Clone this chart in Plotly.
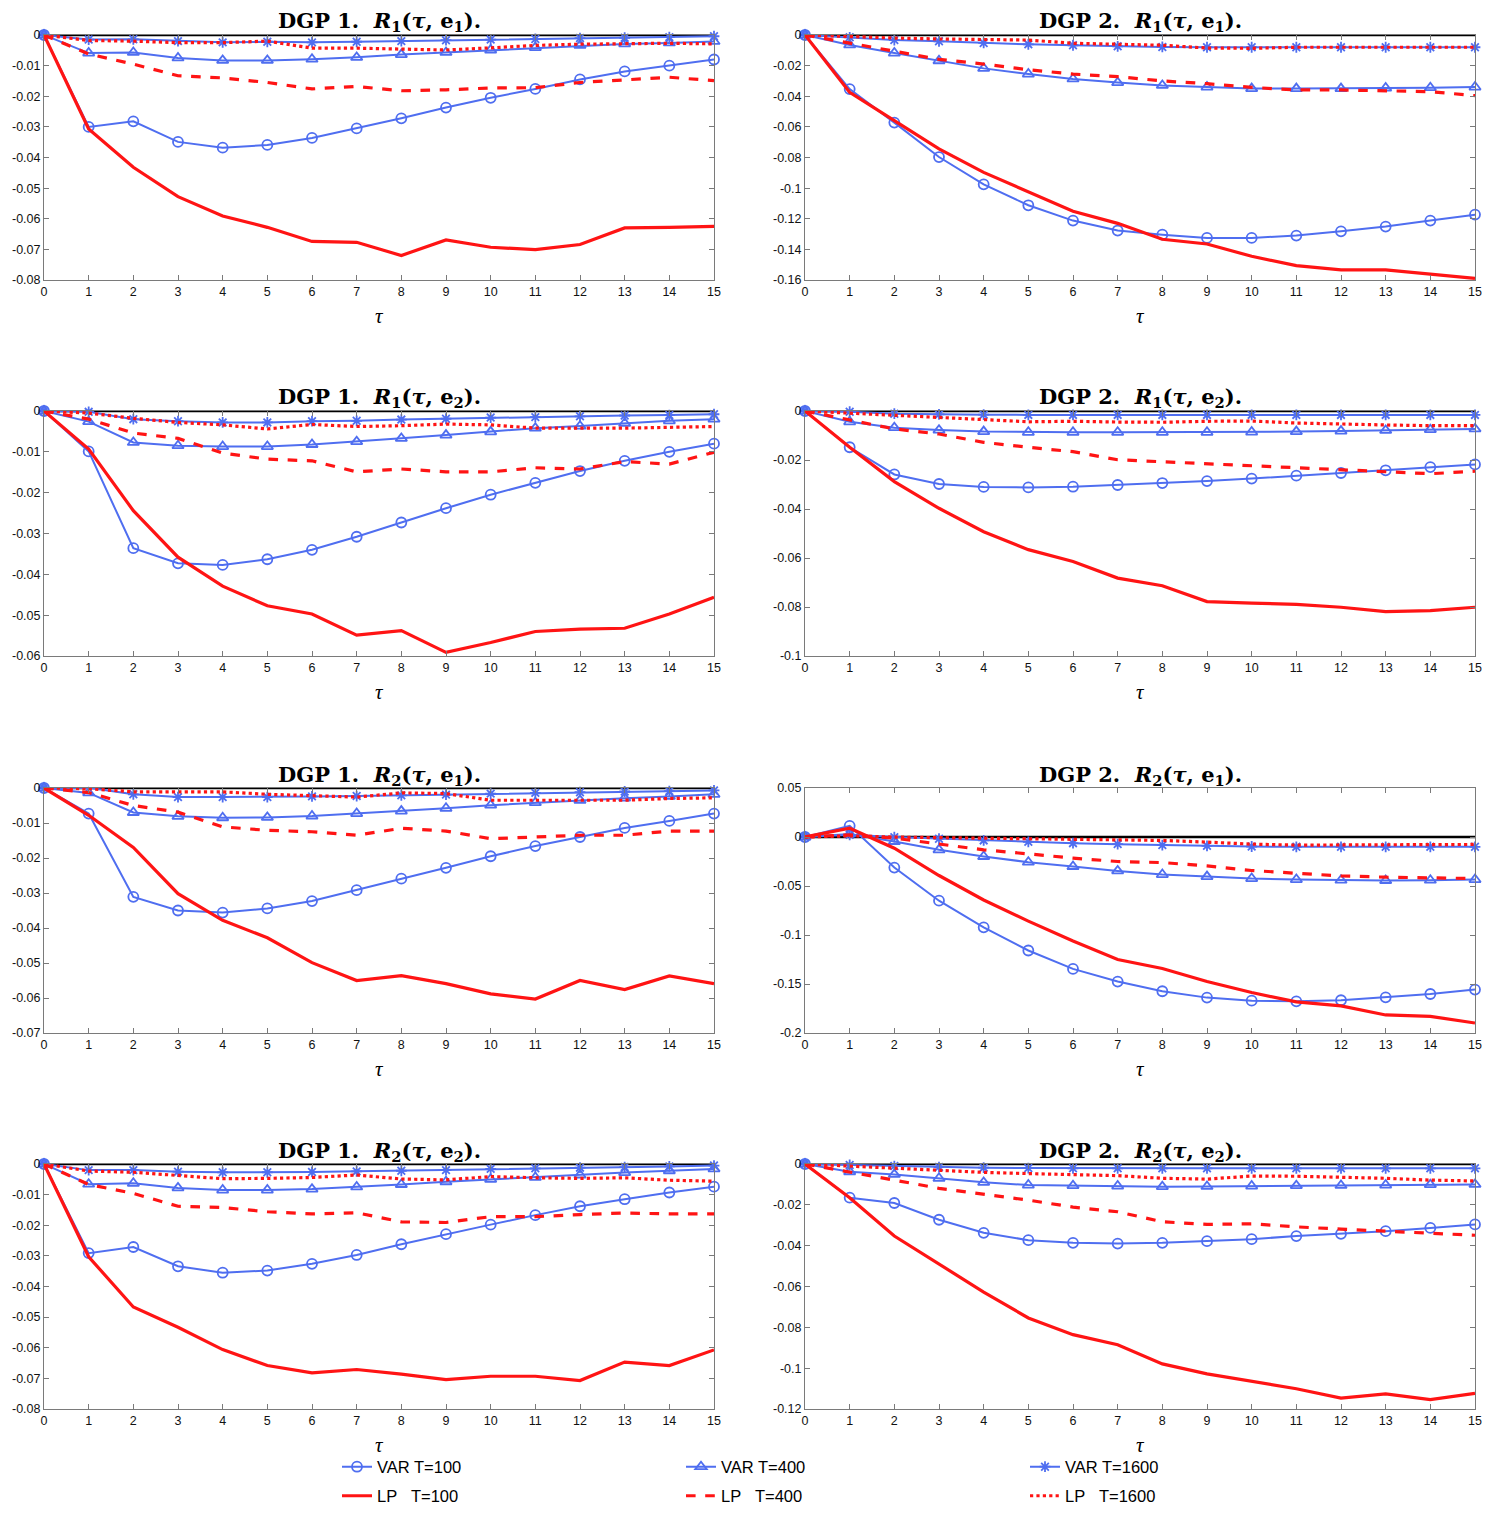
import plotly.graph_objects as go
from plotly.subplots import make_subplots

tau = list(range(16))

# ---------- Panel 1: DGP 1. R1(tau, e1) ----------
p1_var100 = [0, -0.0300, -0.0282, -0.0349, -0.0368, -0.0359, -0.0336, -0.0305, -0.0272, -0.0237, -0.0205, -0.0176, -0.0145, -0.0119, -0.0100, -0.0080]
p1_var400 = [0, -0.0059, -0.0057, -0.0075, -0.0083, -0.0083, -0.0079, -0.0073, -0.0064, -0.0057, -0.0049, -0.0041, -0.0034, -0.0029, -0.0026, -0.0021]
p1_var1600 = [0, -0.0015, -0.0014, -0.0020, -0.0024, -0.0022, -0.0024, -0.0022, -0.0020, -0.0017, -0.0015, -0.0013, -0.0010, -0.0009, -0.0007, -0.0004]
p1_lp100 = [0, -0.0307, -0.0432, -0.0528, -0.0591, -0.0628, -0.0674, -0.0677, -0.0720, -0.0669, -0.0693, -0.0701, -0.0684, -0.0630, -0.0628, -0.0625]
p1_lp400 = [0, -0.0062, -0.0095, -0.0133, -0.0140, -0.0155, -0.0176, -0.0168, -0.0182, -0.0179, -0.0173, -0.0172, -0.0155, -0.0147, -0.0138, -0.0149]
p1_lp1600 = [0, -0.0018, -0.0020, -0.0025, -0.0025, -0.0020, -0.0043, -0.0043, -0.0046, -0.0049, -0.0042, -0.0034, -0.0030, -0.0029, -0.0027, -0.0029]

# ---------- Panel 2: DGP 2. R1(tau, e1) ----------
p2_var100 = [0, -0.0353, -0.0572, -0.0797, -0.0975, -0.1112, -0.1212, -0.1277, -0.1304, -0.1325, -0.1325, -0.1310, -0.1282, -0.1251, -0.1212, -0.1173]
p2_var400 = [0, -0.0065, -0.0118, -0.0168, -0.0218, -0.0255, -0.0287, -0.0311, -0.0329, -0.0340, -0.0350, -0.0350, -0.0350, -0.0346, -0.0344, -0.0340]
p2_var1600 = [0, -0.0015, -0.0033, -0.0041, -0.0052, -0.0061, -0.0067, -0.0074, -0.0078, -0.0080, -0.0080, -0.0080, -0.0080, -0.0080, -0.0080, -0.0080]
p2_lp100 = [0, -0.0374, -0.0559, -0.0744, -0.0897, -0.1023, -0.1151, -0.1230, -0.1334, -0.1365, -0.1445, -0.1506, -0.1534, -0.1534, -0.1560, -0.1589]
p2_lp400 = [0, -0.0054, -0.0107, -0.0159, -0.0190, -0.0227, -0.0255, -0.0272, -0.0300, -0.0318, -0.0342, -0.0359, -0.0359, -0.0363, -0.0370, -0.0396]
p2_lp1600 = [0, -0.0011, -0.0020, -0.0026, -0.0030, -0.0033, -0.0054, -0.0059, -0.0067, -0.0085, -0.0087, -0.0080, -0.0080, -0.0080, -0.0080, -0.0080]

# ---------- Panel 3: DGP 1. R1(tau, e2) ----------
p3_var100 = [0, -0.0099, -0.0336, -0.0373, -0.0377, -0.0363, -0.0340, -0.0308, -0.0273, -0.0238, -0.0205, -0.0176, -0.0147, -0.0122, -0.0100, -0.0080]
p3_var400 = [0, -0.0026, -0.0077, -0.0085, -0.0087, -0.0087, -0.0082, -0.0075, -0.0067, -0.0059, -0.0051, -0.0042, -0.0037, -0.0030, -0.0024, -0.0020]
p3_var1600 = [0, -0.0002, -0.0020, -0.0025, -0.0028, -0.0028, -0.0025, -0.0024, -0.0021, -0.0019, -0.0016, -0.0015, -0.0013, -0.0011, -0.0010, -0.0008]
p3_lp100 = [0, -0.0093, -0.0244, -0.0358, -0.0429, -0.0477, -0.0497, -0.0549, -0.0538, -0.0591, -0.0567, -0.0540, -0.0534, -0.0532, -0.0497, -0.0456]
p3_lp400 = [0, -0.0020, -0.0054, -0.0067, -0.0103, -0.0118, -0.0122, -0.0149, -0.0142, -0.0149, -0.0149, -0.0139, -0.0142, -0.0124, -0.0130, -0.0101]
p3_lp1600 = [0, -0.0005, -0.0018, -0.0028, -0.0034, -0.0044, -0.0033, -0.0038, -0.0036, -0.0032, -0.0034, -0.0042, -0.0042, -0.0042, -0.0040, -0.0038]

# ---------- Panel 4: DGP 2. R1(tau, e2) ----------
p4_var100 = [0, -0.0148, -0.0259, -0.0298, -0.0310, -0.0312, -0.0309, -0.0302, -0.0294, -0.0286, -0.0276, -0.0264, -0.0253, -0.0242, -0.0229, -0.0218]
p4_var400 = [0, -0.0044, -0.0068, -0.0078, -0.0084, -0.0087, -0.0087, -0.0087, -0.0087, -0.0087, -0.0086, -0.0084, -0.0082, -0.0079, -0.0076, -0.0073]
p4_var1600 = [0, -0.0003, -0.0011, -0.0014, -0.0015, -0.0016, -0.0016, -0.0016, -0.0016, -0.0016, -0.0016, -0.0016, -0.0016, -0.0016, -0.0016, -0.0016]
p4_lp100 = [0, -0.0148, -0.0288, -0.0397, -0.0493, -0.0566, -0.0614, -0.0682, -0.0713, -0.0778, -0.0784, -0.0789, -0.0801, -0.0819, -0.0815, -0.0801]
p4_lp400 = [0, -0.0037, -0.0073, -0.0094, -0.0128, -0.0148, -0.0166, -0.0199, -0.0207, -0.0216, -0.0223, -0.0230, -0.0239, -0.0246, -0.0256, -0.0246]
p4_lp1600 = [0, -0.0008, -0.0019, -0.0027, -0.0035, -0.0044, -0.0042, -0.0045, -0.0046, -0.0042, -0.0041, -0.0049, -0.0054, -0.0057, -0.0060, -0.0060]

# ---------- Panel 5: DGP 1. R2(tau, e1) ----------
p5_var100 = [0, -0.0073, -0.0311, -0.0350, -0.0356, -0.0344, -0.0323, -0.0292, -0.0259, -0.0228, -0.0195, -0.0166, -0.0140, -0.0114, -0.0094, -0.0073]
p5_var400 = [0, -0.0014, -0.0070, -0.0081, -0.0085, -0.0084, -0.0080, -0.0073, -0.0066, -0.0058, -0.0049, -0.0042, -0.0035, -0.0029, -0.0024, -0.0018]
p5_var1600 = [0, 0.0001, -0.0018, -0.0026, -0.0026, -0.0026, -0.0024, -0.0023, -0.0021, -0.0019, -0.0016, -0.0014, -0.0012, -0.0010, -0.0009, -0.0007]
p5_lp100 = [0, -0.0078, -0.0170, -0.0302, -0.0378, -0.0428, -0.0499, -0.0550, -0.0536, -0.0559, -0.0588, -0.0603, -0.0550, -0.0576, -0.0537, -0.0559]
p5_lp400 = [0, -0.0013, -0.0050, -0.0069, -0.0111, -0.0121, -0.0125, -0.0135, -0.0115, -0.0123, -0.0145, -0.0140, -0.0135, -0.0135, -0.0123, -0.0123]
p5_lp1600 = [0, -0.0002, -0.0011, -0.0012, -0.0011, -0.0018, -0.0021, -0.0026, -0.0014, -0.0016, -0.0035, -0.0035, -0.0034, -0.0035, -0.0030, -0.0028]

# ---------- Panel 6: DGP 2. R2(tau, e1) ----------
p6_var100 = [0, 0.0114, -0.0312, -0.0650, -0.0922, -0.1158, -0.1346, -0.1475, -0.1574, -0.1639, -0.1670, -0.1677, -0.1666, -0.1636, -0.1602, -0.1557]
p6_var400 = [0, 0.0030, -0.0046, -0.0131, -0.0199, -0.0257, -0.0301, -0.0346, -0.0383, -0.0404, -0.0424, -0.0434, -0.0441, -0.0444, -0.0441, -0.0434]
p6_var1600 = [0, 0.0022, -0.0001, -0.0018, -0.0035, -0.0049, -0.0063, -0.0073, -0.0083, -0.0090, -0.0097, -0.0100, -0.0100, -0.0100, -0.0100, -0.0100]
p6_lp100 = [0, 0.0090, -0.0114, -0.0393, -0.0643, -0.0858, -0.1062, -0.1250, -0.1342, -0.1475, -0.1587, -0.1683, -0.1724, -0.1816, -0.1830, -0.1898]
p6_lp400 = [0, 0.0022, -0.0012, -0.0073, -0.0131, -0.0172, -0.0216, -0.0250, -0.0261, -0.0295, -0.0342, -0.0370, -0.0397, -0.0410, -0.0414, -0.0424]
p6_lp1600 = [0, 0.0012, -0.0001, -0.0008, -0.0015, -0.0022, -0.0029, -0.0035, -0.0035, -0.0052, -0.0073, -0.0083, -0.0080, -0.0083, -0.0080, -0.0076]

# ---------- Panel 7: DGP 1. R2(tau, e2) ----------
p7_var100 = [0, -0.0291, -0.0271, -0.0334, -0.0355, -0.0348, -0.0326, -0.0297, -0.0262, -0.0229, -0.0198, -0.0167, -0.0138, -0.0115, -0.0093, -0.0074]
p7_var400 = [0, -0.0066, -0.0063, -0.0078, -0.0085, -0.0085, -0.0082, -0.0075, -0.0067, -0.0058, -0.0050, -0.0044, -0.0036, -0.0028, -0.0022, -0.0016]
p7_var1600 = [0, -0.0020, -0.0020, -0.0025, -0.0027, -0.0027, -0.0026, -0.0024, -0.0022, -0.0020, -0.0016, -0.0014, -0.0012, -0.0010, -0.0008, -0.0005]
p7_lp100 = [0, -0.0303, -0.0467, -0.0533, -0.0606, -0.0658, -0.0682, -0.0671, -0.0686, -0.0704, -0.0693, -0.0693, -0.0707, -0.0647, -0.0658, -0.0607]
p7_lp400 = [0, -0.0067, -0.0096, -0.0138, -0.0142, -0.0156, -0.0163, -0.0159, -0.0189, -0.0191, -0.0172, -0.0172, -0.0165, -0.0160, -0.0163, -0.0163]
p7_lp1600 = [0, -0.0023, -0.0027, -0.0038, -0.0048, -0.0047, -0.0044, -0.0036, -0.0049, -0.0052, -0.0041, -0.0045, -0.0047, -0.0045, -0.0053, -0.0056]

# ---------- Panel 8: DGP 2. R2(tau, e2) ----------
p8_var100 = [0, -0.0165, -0.0191, -0.0273, -0.0337, -0.0373, -0.0386, -0.0390, -0.0386, -0.0378, -0.0368, -0.0353, -0.0342, -0.0329, -0.0313, -0.0296]
p8_var400 = [0, -0.0038, -0.0051, -0.0070, -0.0090, -0.0103, -0.0106, -0.0108, -0.0111, -0.0110, -0.0108, -0.0106, -0.0105, -0.0103, -0.0101, -0.0100]
p8_var1600 = [0, -0.0005, -0.0010, -0.0015, -0.0018, -0.0020, -0.0021, -0.0021, -0.0021, -0.0021, -0.0021, -0.0021, -0.0021, -0.0021, -0.0021, -0.0021]
p8_lp100 = [0, -0.0165, -0.0353, -0.0488, -0.0627, -0.0754, -0.0836, -0.0885, -0.0979, -0.1028, -0.1065, -0.1101, -0.1147, -0.1126, -0.1154, -0.1123]
p8_lp400 = [0, -0.0038, -0.0079, -0.0119, -0.0149, -0.0177, -0.0211, -0.0234, -0.0283, -0.0296, -0.0293, -0.0308, -0.0319, -0.0329, -0.0340, -0.0349]
p8_lp1600 = [0, -0.0010, -0.0018, -0.0029, -0.0041, -0.0047, -0.0054, -0.0057, -0.0070, -0.0074, -0.0059, -0.0060, -0.0065, -0.0070, -0.0079, -0.0083]

# ---------- Titles ----------
SP = "\u00a0\u00a0"
titles = [
    "DGP 1." + SP + "<i>R</i><sub>1</sub>(<i>τ</i>, e<sub>1</sub>).",
    "DGP 2." + SP + "<i>R</i><sub>1</sub>(<i>τ</i>, e<sub>1</sub>).",
    "DGP 1." + SP + "<i>R</i><sub>1</sub>(<i>τ</i>, e<sub>2</sub>).",
    "DGP 2." + SP + "<i>R</i><sub>1</sub>(<i>τ</i>, e<sub>2</sub>).",
    "DGP 1." + SP + "<i>R</i><sub>2</sub>(<i>τ</i>, e<sub>1</sub>).",
    "DGP 2." + SP + "<i>R</i><sub>2</sub>(<i>τ</i>, e<sub>1</sub>).",
    "DGP 1." + SP + "<i>R</i><sub>2</sub>(<i>τ</i>, e<sub>2</sub>).",
    "DGP 2." + SP + "<i>R</i><sub>2</sub>(<i>τ</i>, e<sub>2</sub>).",
]

# ---------- Tick values / labels ----------
x_tickvals = list(range(16))
x_ticktext = [str(v) for v in x_tickvals]

p1_yticks = [0, -0.01, -0.02, -0.03, -0.04, -0.05, -0.06, -0.07, -0.08]
p1_ylabels = ["0", "-0.01", "-0.02", "-0.03", "-0.04", "-0.05", "-0.06", "-0.07", "-0.08"]
p2_yticks = [0, -0.02, -0.04, -0.06, -0.08, -0.1, -0.12, -0.14, -0.16]
p2_ylabels = ["0", "-0.02", "-0.04", "-0.06", "-0.08", "-0.1", "-0.12", "-0.14", "-0.16"]
p3_yticks = [0, -0.01, -0.02, -0.03, -0.04, -0.05, -0.06]
p3_ylabels = ["0", "-0.01", "-0.02", "-0.03", "-0.04", "-0.05", "-0.06"]
p4_yticks = [0, -0.02, -0.04, -0.06, -0.08, -0.1]
p4_ylabels = ["0", "-0.02", "-0.04", "-0.06", "-0.08", "-0.1"]
p5_yticks = [0, -0.01, -0.02, -0.03, -0.04, -0.05, -0.06, -0.07]
p5_ylabels = ["0", "-0.01", "-0.02", "-0.03", "-0.04", "-0.05", "-0.06", "-0.07"]
p6_yticks = [0.05, 0, -0.05, -0.1, -0.15, -0.2]
p6_ylabels = ["0.05", "0", "-0.05", "-0.1", "-0.15", "-0.2"]
p7_yticks = [0, -0.01, -0.02, -0.03, -0.04, -0.05, -0.06, -0.07, -0.08]
p7_ylabels = ["0", "-0.01", "-0.02", "-0.03", "-0.04", "-0.05", "-0.06", "-0.07", "-0.08"]
p8_yticks = [0, -0.02, -0.04, -0.06, -0.08, -0.1, -0.12]
p8_ylabels = ["0", "-0.02", "-0.04", "-0.06", "-0.08", "-0.1", "-0.12"]

series_names = ["VAR T=100", "VAR T=400", "VAR T=1600",
                "LP\u00a0\u00a0\u00a0T=100", "LP\u00a0\u00a0\u00a0T=400", "LP\u00a0\u00a0\u00a0T=1600"]

panels = [
    (p1_var100, p1_var400, p1_var1600, p1_lp100, p1_lp400, p1_lp1600, p1_yticks, p1_ylabels),
    (p2_var100, p2_var400, p2_var1600, p2_lp100, p2_lp400, p2_lp1600, p2_yticks, p2_ylabels),
    (p3_var100, p3_var400, p3_var1600, p3_lp100, p3_lp400, p3_lp1600, p3_yticks, p3_ylabels),
    (p4_var100, p4_var400, p4_var1600, p4_lp100, p4_lp400, p4_lp1600, p4_yticks, p4_ylabels),
    (p5_var100, p5_var400, p5_var1600, p5_lp100, p5_lp400, p5_lp1600, p5_yticks, p5_ylabels),
    (p6_var100, p6_var400, p6_var1600, p6_lp100, p6_lp400, p6_lp1600, p6_yticks, p6_ylabels),
    (p7_var100, p7_var400, p7_var1600, p7_lp100, p7_lp400, p7_lp1600, p7_yticks, p7_ylabels),
    (p8_var100, p8_var400, p8_var1600, p8_lp100, p8_lp400, p8_lp1600, p8_yticks, p8_ylabels),
]

# ---------- Styling / layout ----------
# The page body has an 8px margin; the figure is sized to fit inside the window.
OFF = 8
W, H = 1494 - 2 * OFF, 1515 - 2 * OFF
BLUE = "#4f6ef0"
RED = "#ff1414"
AXCOL = "#7a7a7a"

col_px = [(44, 714), (805, 1475)]          # reference-screen pixels
row_top_px = [35, 411, 788, 1164]
PLOT_H = 245


def px_x(p):
    return (p - OFF) / W


def px_y(p):
    return 1 - (p - OFF) / H


fig = make_subplots(rows=4, cols=2)

var_styles = [
    dict(symbol="circle-open", size=10),
    dict(symbol="triangle-up-open", size=10),
    dict(symbol="asterisk-open", size=9),
]
lp_dash = ["solid", "dash", "dot"]

annotations = []
for i, (v100, v400, v1600, l100, l400, l1600, yt, yl) in enumerate(panels):
    r = i // 2 + 1
    c = i % 2 + 1
    show = (i == 0)
    # zero reference line
    fig.add_trace(go.Scatter(x=[tau[0], tau[-1]], y=[0, 0], mode="lines",
                             line=dict(color="black", width=2.6),
                             showlegend=False, hoverinfo="skip"), row=r, col=c)
    for k, ys in enumerate([v100, v400, v1600]):
        fig.add_trace(go.Scatter(
            x=tau, y=ys, mode="lines+markers", name=series_names[k],
            line=dict(color=BLUE, width=2),
            marker=dict(symbol=var_styles[k]["symbol"], size=var_styles[k]["size"],
                        color=BLUE, line=dict(color=BLUE, width=1.8)),
            legend="legend", legendrank=k, showlegend=show, cliponaxis=False), row=r, col=c)
    for k, ys in enumerate([l100, l400, l1600]):
        fig.add_trace(go.Scatter(
            x=tau, y=ys, mode="lines", name=series_names[3 + k],
            line=dict(color=RED, width=3.2, dash=lp_dash[k]),
            legend="legend2", legendrank=k, showlegend=show, cliponaxis=False), row=r, col=c)

    x0, x1 = col_px[c - 1]
    ytop = row_top_px[r - 1]
    ybot = ytop + PLOT_H
    xdom = [px_x(x0), px_x(x1)]
    ydom = [px_y(ybot), px_y(ytop)]
    axis_common = dict(showline=True, linecolor=AXCOL, linewidth=1, mirror="ticks",
                       ticks="inside", ticklen=5, tickcolor=AXCOL, tickwidth=1,
                       showgrid=False, zeroline=False, automargin=False,
                       tickfont=dict(family="Liberation Sans, Arial", size=12.5, color="#111"))
    fig.update_xaxes(domain=xdom, range=[0, 15], tickvals=x_tickvals, ticktext=x_ticktext,
                     row=r, col=c, **axis_common)
    fig.update_yaxes(domain=ydom, range=[min(yt), max(yt)], tickvals=yt, ticktext=yl,
                     row=r, col=c, **axis_common)

    xc = px_x((x0 + x1) / 2)
    annotations.append(dict(text="<b>" + titles[i] + "</b>", x=xc, xref="paper",
                            y=px_y(ytop - 13), yref="paper", xanchor="center", yanchor="middle",
                            showarrow=False,
                            font=dict(family="DejaVu Serif, Liberation Serif, serif", size=21, color="black")))
    annotations.append(dict(text="<i>τ</i>", x=xc, xref="paper",
                            y=px_y(ybot + 36), yref="paper", xanchor="center", yanchor="middle",
                            showarrow=False,
                            font=dict(family="Liberation Serif, Times New Roman, serif", size=21, color="black")))

legend_font = dict(family="Liberation Sans, Arial", size=16.5, color="black")
fig.update_layout(
    width=W, height=H,
    margin=dict(l=0, r=0, t=0, b=0, autoexpand=False),
    paper_bgcolor="white", plot_bgcolor="white",
    annotations=annotations,
    legend=dict(orientation="h", x=px_x(337), xanchor="left", y=px_y(1467), yanchor="middle",
                entrywidth=299, entrywidthmode="pixels", bgcolor="rgba(0,0,0,0)",
                font=legend_font, traceorder="normal", itemclick=False),
    legend2=dict(orientation="h", x=px_x(337), xanchor="left", y=px_y(1496), yanchor="middle",
                 entrywidth=299, entrywidthmode="pixels", bgcolor="rgba(0,0,0,0)",
                 font=legend_font, traceorder="normal", itemclick=False),
)

fig.write_html("out.html")
